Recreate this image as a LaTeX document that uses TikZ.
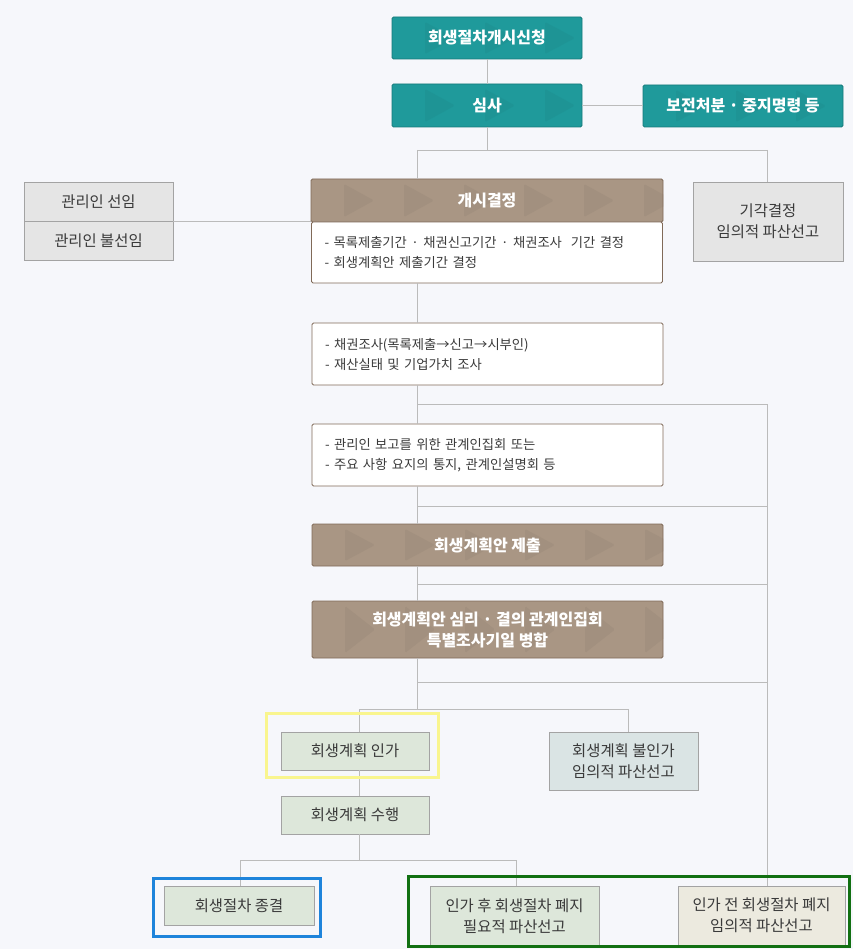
\documentclass[tikz,border=0pt]{standalone}
\usepackage{fontspec}
\setmainfont{Noto Sans CJK KR}
\definecolor{cbg}{HTML}{F6F7FB}
\definecolor{cteal}{HTML}{1F9A9B}
\definecolor{ctealdark}{HTML}{167A7A}
\definecolor{cbrown}{HTML}{A99684}
\definecolor{cbrownd}{HTML}{806A58}
\definecolor{cgray}{HTML}{E5E5E5}
\definecolor{cgrayd}{HTML}{A3A3A3}
\definecolor{cgreen}{HTML}{DDE7DA}
\definecolor{cbluegray}{HTML}{DAE4E4}
\definecolor{cbeige}{HTML}{ECEADF}
\definecolor{cline}{HTML}{BBBBBB}
\definecolor{ctext}{HTML}{3A3A3A}
\definecolor{cyellow}{HTML}{F9F58E}
\definecolor{cblue}{HTML}{1E84DB}
\definecolor{cdkgreen}{HTML}{127012}
\begin{document}
\begin{tikzpicture}[x=1pt,y=-1pt,
  arrowdeco/.style={path picture={
    \foreach \k [evaluate=\k as \xa using 33+60*\k, evaluate=\k as \xb using 63+60*\k] in {0,...,5} {
      \fill[#1] ([xshift=\xa pt,yshift=-5pt]path picture bounding box.north west)
        -- ([xshift=\xb pt]path picture bounding box.west)
        -- ([xshift=\xa pt,yshift=5pt]path picture bounding box.south west) -- cycle;
    }}},
  box/.style={draw, inner sep=0pt, align=center, line width=0.8pt},
  tealbox/.style={box, fill=cteal, draw=ctealdark, text=white, rounded corners=1.5pt,
    font=\fontsize{16}{19}\selectfont\bfseries, arrowdeco=cteal!96!black},
  brownbox/.style={box, fill=cbrown, draw=cbrownd, text=white, rounded corners=1.5pt,
    font=\fontsize{16}{21}\selectfont\bfseries, arrowdeco=cbrown!96!black},
  notebox/.style={box, fill=white, draw=cbrownd, text=ctext, rounded corners=1.5pt,
    font=\fontsize{13.3}{20}\selectfont, align=left, inner xsep=13pt, text width=325pt},
  graybox/.style={box, fill=cgray, draw=cgrayd, text=ctext, font=\fontsize{15.4}{21}\selectfont},
  greenbox/.style={graybox, fill=cgreen},
  bluegraybox/.style={graybox, fill=cbluegray},
  beigebox/.style={graybox, fill=cbeige},
  conn/.style={draw=cline, line width=0.8pt},
  hl/.style={line width=3pt}
]
\fill[cbg] (0,0) rectangle (853,949);
\useasboundingbox (0,0) rectangle (853,949);

% nodes
\node[tealbox, minimum width=190pt, minimum height=42pt] (apply) at (487,38) {회생절차개시신청};
\node[tealbox, minimum width=190pt, minimum height=43pt] (review) at (487,105.5) {심사};
\node[tealbox, minimum width=200pt, minimum height=42pt] (preserve) at (743,106) {보전처분 · 중지명령 등};

\node[graybox, minimum width=149pt, minimum height=39pt] (mgrA) at (98.5,201.5) {관리인 선임};
\node[graybox, minimum width=149pt, minimum height=39pt] (mgrB) at (98.5,240.5) {관리인 불선임};

\node[brownbox, minimum width=352pt, minimum height=43pt] (head) at (487,200.5) {개시결정};
\node[notebox, minimum height=61pt] (headbody) at (487,252.5) {- 목록제출기간 · 채권신고기간 · 채권조사~~기간 결정\\- 회생계획안 제출기간 결정};

\node[graybox, minimum width=150pt, minimum height=79pt] (dismiss) at (768,221.5) {기각결정\\임의적 파산선고};

\node[notebox, minimum height=62pt] (invest) at (487.5,354) {- 채권조사(목록제출→신고→시부인)\\- 재산실태 및 기업가치 조사};
\node[notebox, minimum height=62pt] (meeting) at (487.5,455) {- 관리인 보고를 위한 관계인집회 또는\\- 주요 사항 요지의 통지, 관계인설명회 등};
\node[brownbox, minimum width=351pt, minimum height=42pt] (submit) at (487.5,545) {회생계획안 제출};
\node[brownbox, minimum width=351pt, minimum height=57pt] (hearing) at (487.5,629.5) {회생계획안 심리 · 결의 관계인집회\\특별조사기일 병합};

\node[greenbox, minimum width=148pt, minimum height=38pt] (approve) at (355,751) {회생계획 인가};
\node[bluegraybox, minimum width=149pt, minimum height=58pt] (reject) at (623.5,761) {회생계획 불인가\\임의적 파산선고};
\node[greenbox, minimum width=148pt, minimum height=38pt] (perform) at (355,815) {회생계획 수행};

\node[greenbox, minimum width=150pt, minimum height=39pt] (close) at (239,905.5) {회생절차 종결};
\node[greenbox, minimum width=169pt, minimum height=60pt] (after) at (514.5,916) {인가 후 회생절차 폐지\\필요적 파산선고};
\node[beigebox, minimum width=167pt, minimum height=59pt] (before) at (761.5,915.5) {인가 전 회생절차 폐지\\임의적 파산선고};

% junction coordinates
\coordinate (j1) at (487,150);
\coordinate (jL) at (417,150);
\coordinate (jR) at (767,150);
\coordinate (b1) at (417,404);
\coordinate (b2) at (417,506);
\coordinate (b3) at (417,584);
\coordinate (b4) at (417,682);
\coordinate (r1) at (767,404);
\coordinate (r2) at (767,506);
\coordinate (r3) at (767,584);
\coordinate (r4) at (767,682);
\coordinate (k) at (417,709);
\coordinate (kL) at (359,709);
\coordinate (kR) at (628,709);
\coordinate (m) at (359,860);
\coordinate (mL) at (240,860);
\coordinate (mR) at (516,860);

% connectors
\draw[conn] (apply) -- (review);
\draw[conn] (review.east) -- (review.east -| preserve.west);
\draw[conn] (review.south) -- (j1);
\draw[conn] (jL) -- (jR);
\draw[conn] (jL) -- (jL |- head.north);
\draw[conn] (jR) -- (jR |- dismiss.north);
\draw[conn] (mgrA.south east) -- (mgrA.south east -| head.west);
\draw[conn] (jL |- headbody.south) -- (jL |- invest.north);
\draw[conn] (jL |- invest.south) -- (jL |- meeting.north);
\draw[conn] (jL |- meeting.south) -- (jL |- submit.north);
\draw[conn] (jL |- submit.south) -- (jL |- hearing.north);
\draw[conn] (jL |- hearing.south) -- (k);
\draw[conn] (b1) -- (r1);
\draw[conn] (b2) -- (r2);
\draw[conn] (b3) -- (r3);
\draw[conn] (b4) -- (r4);
\draw[conn] (r1) -- (r1 |- before.north);
\draw[conn] (kL) -- (kR);
\draw[conn] (kL) -- (kL |- approve.north);
\draw[conn] (kR) -- (kR |- reject.north);
\draw[conn] (kL |- approve.south) -- (kL |- perform.north);
\draw[conn] (kL |- perform.south) -- (m);
\draw[conn] (mL) -- (mR);
\draw[conn] (mL) -- (mL |- close.north);
\draw[conn] (mR) -- (mR |- after.north);

% highlight frames
\draw[hl, cyellow] (266,713) rectangle (438,777);
\draw[hl, cblue] (153,878) rectangle (320,936);
\draw[hl, cdkgreen] (408,876) rectangle (849,946.5);
\end{tikzpicture}
\end{document}
